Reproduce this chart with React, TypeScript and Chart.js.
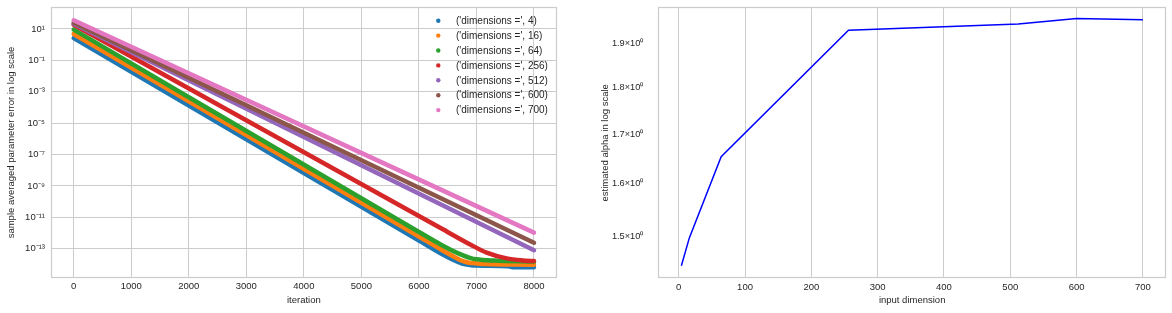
import React, { useEffect, useRef } from 'react';
import { Chart, registerables } from 'chart.js';

Chart.register(...registerables);

const FONT = "'Liberation Sans', Arial, Helvetica, sans-serif";
const TEXT = '#262626';
const GRID = '#cccccc';

// ---------- left chart data ----------
const dimensions = [4, 16, 64, 256, 512, 600, 700];
const seriesColors = ['#1f77b4', '#ff7f0e', '#2ca02c', '#d62728', '#9467bd', '#8c564b', '#e377c2'];
const legendLabels = dimensions.map((d) => `('dimensions =', ${d})`);

const iterD4 = [0, 6000, 6384, 6600, 6750, 6900, 7000, 7550, 7650, 8000];
const errD4 = [2.6, 3.3e-13, 4.9e-14, 1.9e-14, 1.12e-14, 8.9e-15, 8.3e-15, 7.6e-15, 6.6e-15, 6.5e-15];

const iterD16 = [0, 6000, 6384, 6600, 6714, 6850, 7000, 8000];
const errD16 = [4.8, 6.0e-13, 8.9e-14, 3.2e-14, 1.9e-14, 1.32e-14, 1.15e-14, 9.5e-15];

const iterD64 = [0, 6000, 6384, 6714, 6900, 7000, 7300, 8000];
const errD64 = [9.1, 1.15e-12, 1.8e-13, 4.5e-14, 2.5e-14, 2.1e-14, 1.74e-14, 1.5e-14];

const iterD256 = [0, 6384, 6900, 7177, 7524, 7800, 8000];
const errD256 = [18.6, 2.0e-12, 1.78e-13, 5.6e-14, 2.4e-14, 1.78e-14, 1.62e-14];

const iterD512 = [0, 8000];
const errD512 = [21.4, 7.9e-14];

const iterD600 = [0, 8000];
const errD600 = [25, 2.4e-13];

const iterD700 = [0, 8000];
const errD700 = [35.5, 1.05e-12];

const iterTicks = [0, 1000, 2000, 3000, 4000, 5000, 6000, 7000, 8000];
const errTicks = [1e1, 1e-1, 1e-3, 1e-5, 1e-7, 1e-9, 1e-11, 1e-13];

// ---------- right chart data ----------
const inputDims = [4, 16, 64, 256, 512, 600, 700];
const alphaEst = [1.448, 1.498, 1.654, 1.930, 1.945, 1.958, 1.955];
const dimTicks = [0, 100, 200, 300, 400, 500, 600, 700];
const alphaTicks = [1.5, 1.6, 1.7, 1.8, 1.9];

const SUP: Record<string, string> = {
  '-': '\u207B', '0': '\u2070', '1': '\u00B9', '2': '\u00B2', '3': '\u00B3',
  '4': '\u2074', '5': '\u2075', '6': '\u2076', '7': '\u2077', '8': '\u2078', '9': '\u2079',
};
const sup = (n: number) => String(n).split('').map((c) => SUP[c]).join('');
const pow10Label = (v: number) => '10' + sup(Math.round(Math.log10(v)));

const framePlugin = {
  id: 'frame',
  afterDraw(chart: any) {
    const { ctx, chartArea } = chart;
    const l = Math.round(chartArea.left) + 0.5;
    const t = Math.round(chartArea.top) + 0.5;
    const r = Math.round(chartArea.right) - 0.5;
    const b = Math.round(chartArea.bottom) - 0.5;
    ctx.save();
    ctx.strokeStyle = GRID;
    ctx.lineWidth = 1.25;
    ctx.strokeRect(l, t, r - l, b - t);
    ctx.restore();
  },
};

// matplotlib-style legend drawn inside the plot area, top right
const innerLegendPlugin = {
  id: 'innerLegend',
  afterDraw(chart: any) {
    const { ctx, chartArea } = chart;
    const dotX = chartArea.right - 118.7;
    const textX = chartArea.right - 101;
    const y0 = chartArea.top + 13.7;
    ctx.save();
    ctx.font = `10px ${FONT}`;
    ctx.textBaseline = 'middle';
    ctx.textAlign = 'left';
    legendLabels.forEach((label, i) => {
      const y = y0 + i * 14.9;
      ctx.fillStyle = seriesColors[i];
      ctx.beginPath();
      ctx.arc(dotX, y, 2.2, 0, Math.PI * 2);
      ctx.fill();
      ctx.fillStyle = TEXT;
      ctx.fillText(label, textX, y + 0.5);
    });
    ctx.restore();
  },
};

const tickFont = { family: FONT, size: 9.5 };
const titleFont = { family: FONT, size: 9.5 };

function makeLeftConfig(): any {
  const iters = [iterD4, iterD16, iterD64, iterD256, iterD512, iterD600, iterD700];
  const errs = [errD4, errD16, errD64, errD256, errD512, errD600, errD700];
  const datasets = dimensions.map((d, i) => ({
    label: legendLabels[i],
    data: iters[i].map((x, j) => ({ x, y: errs[i][j] })),
    borderColor: seriesColors[i],
    backgroundColor: seriesColors[i],
    borderWidth: 4.5,
    borderCapStyle: 'round',
    borderJoinStyle: 'round',
    pointRadius: 0,
    pointStyle: 'circle',
    cubicInterpolationMode: 'monotone',
    fill: false,
    order: dimensions.length - i,
  }));
  return {
    type: 'line',
    data: { datasets },
    options: {
      animation: false,
      responsive: false,
      devicePixelRatio: 1,
      layout: { padding: { left: 0, top: 7, right: 18, bottom: 0 } },
      plugins: {
        tooltip: { enabled: false },
        legend: { display: false },
      },
      scales: {
        x: {
          type: 'linear',
          min: -400,
          max: 8400,
          afterBuildTicks: (s: any) => { s.ticks = iterTicks.map((v) => ({ value: v })); },
          afterFit: (s: any) => { s.height = 35; s.paddingLeft = 0; s.paddingRight = 0; },
          ticks: { autoSkip: false, maxRotation: 0, padding: 3, color: TEXT, font: tickFont, callback: (v: any) => String(v) },
          grid: { color: GRID, lineWidth: 1, drawTicks: false },
          border: { display: false },
          title: { display: true, text: 'iteration', color: TEXT, font: titleFont, padding: { top: 0, bottom: 7.3 } },
        },
        y: {
          type: 'logarithmic',
          min: 1.35e-15,
          max: 251,
          afterBuildTicks: (s: any) => { s.ticks = errTicks.map((v) => ({ value: v })); },
          afterFit: (s: any) => { s.width = 50.7; s.paddingTop = 0; s.paddingBottom = 0; },
          ticks: { autoSkip: false, padding: 5.7, color: TEXT, font: tickFont, callback: (v: any) => pow10Label(Number(v)) },
          grid: { color: GRID, lineWidth: 1, drawTicks: false },
          border: { display: false },
          title: { display: true, text: 'sample averaged parameter error in log scale', color: TEXT, font: titleFont, padding: { top: 5.3, bottom: 0 } },
        },
      },
    },
    plugins: [framePlugin, innerLegendPlugin],
  };
}

function makeRightConfig(): any {
  return {
    type: 'line',
    data: {
      datasets: [
        {
          label: 'estimated alpha',
          data: inputDims.map((x, i) => ({ x, y: alphaEst[i] })),
          borderColor: '#0000ff',
          backgroundColor: '#0000ff',
          borderWidth: 1.5,
          pointRadius: 0,
          tension: 0,
          fill: false,
        },
      ],
    },
    options: {
      animation: false,
      responsive: false,
      devicePixelRatio: 1,
      layout: { padding: { left: 0, top: 7.3, right: 6, bottom: 0 } },
      plugins: { legend: { display: false }, tooltip: { enabled: false } },
      scales: {
        x: {
          type: 'linear',
          min: -30.8,
          max: 734.8,
          afterBuildTicks: (s: any) => { s.ticks = dimTicks.map((v) => ({ value: v })); },
          afterFit: (s: any) => { s.height = 34.7; s.paddingLeft = 0; s.paddingRight = 0; },
          ticks: { autoSkip: false, maxRotation: 0, padding: 3, color: TEXT, font: tickFont, callback: (v: any) => String(v) },
          grid: { color: GRID, lineWidth: 1, drawTicks: false },
          border: { display: false },
          title: { display: true, text: 'input dimension', color: TEXT, font: titleFont, padding: { top: 0, bottom: 7.3 } },
        },
        y: {
          type: 'logarithmic',
          min: 1.4259,
          max: 1.985,
          afterBuildTicks: (s: any) => { s.ticks = alphaTicks.map((v) => ({ value: v })); },
          afterFit: (s: any) => { s.width = 78.3; s.paddingTop = 0; s.paddingBottom = 0; },
          ticks: {
            autoSkip: false,
            padding: 15,
            color: TEXT,
            font: { family: FONT, size: 9.2 },
            callback: (v: any) => `${Number(v).toFixed(1)}\u00D710${sup(0)}`,
          },
          grid: { display: false, drawTicks: false },
          border: { display: false },
          title: { display: true, text: 'estimated alpha in log scale', color: TEXT, font: titleFont, padding: { top: 19.3, bottom: 0 } },
        },
      },
    },
    plugins: [framePlugin],
  };
}

function ChartCanvas({ makeConfig, left, width, height }: { makeConfig: () => any; left: number; width: number; height: number }) {
  const ref = useRef<HTMLCanvasElement>(null);
  useEffect(() => {
    const chart = new Chart(ref.current as HTMLCanvasElement, makeConfig());
    return () => chart.destroy();
  }, [makeConfig]);
  return (
    <canvas
      ref={ref}
      width={width}
      height={height}
      style={{ position: 'absolute', left, top: 0, width, height, display: 'block' }}
    />
  );
}

export default function App() {
  return (
    <div style={{ position: 'absolute', left: 0, top: 0, width: 1172, height: 313, background: '#ffffff', overflow: 'hidden' }}>
      <ChartCanvas makeConfig={makeLeftConfig} left={0} width={575} height={313} />
      <ChartCanvas makeConfig={makeRightConfig} left={580} width={592} height={313} />
    </div>
  );
}
